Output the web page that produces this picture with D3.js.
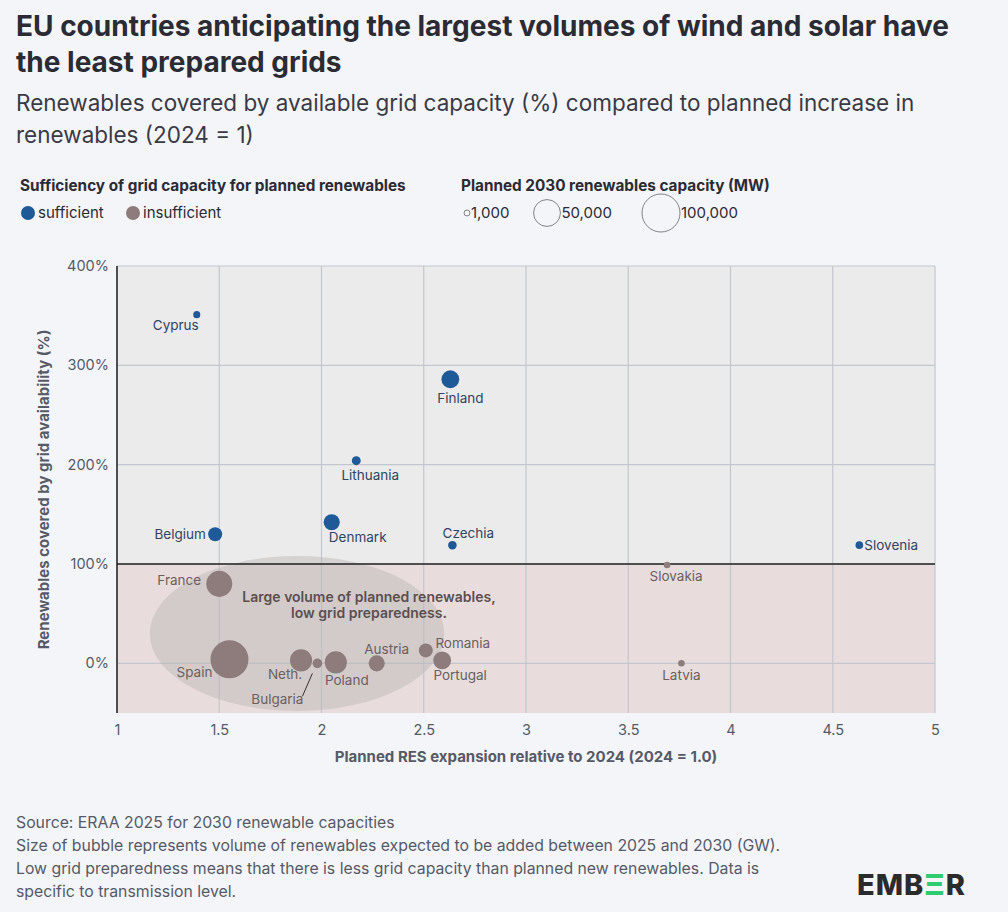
<!DOCTYPE html>
<html>
<head>
<meta charset="utf-8">
<script src="https://cdn.jsdelivr.net/npm/d3@7"></script>
<style>
  body { margin: 0; background: #f4f5f9; font-family: Inter, "Noto Sans", sans-serif; }
  svg text { font-family: Inter, "Noto Sans", sans-serif; }
</style>
</head>
<body>
<svg id="chart" width="1008" height="912"></svg>
<script>
var countries = ['Cyprus', 'Finland', 'Lithuania', 'Belgium', 'Denmark', 'Czechia', 'Slovenia', 'Slovakia', 'Latvia',
  'France', 'Spain', 'Neth.', 'Bulgaria', 'Poland', 'Austria', 'Romania', 'Portugal'];
var expansion = [1.39, 2.63, 2.17, 1.48, 2.05, 2.64, 4.63, 3.69, 3.76, 1.50, 1.55, 1.90, 1.98, 2.07, 2.27, 2.51, 2.59];
var covered = [351, 286, 204, 130, 142, 119, 119, 99, 0, 80, 4, 3, 0, 1, 0, 13, 3];
var capacity = [3500, 22000, 5500, 13500, 18000, 5000, 4000, 3000, 3000, 47000, 100000, 34000, 6500, 34000, 18000, 13500, 22000];
var sufficient = [true, true, true, true, true, true, true, false, false, false, false, false, false, false, false, false, false];
var xTicks = [1, 1.5, 2, 2.5, 3, 3.5, 4, 4.5, 5];
var yTicks = [0, 100, 200, 300, 400];
var sizeLegend = [1000, 50000, 100000];

// label placement: [dx, dy, anchor]
var labelPos = {
  'Cyprus': [-21, 15, 'middle'], 'Finland': [10, 24, 'middle'], 'Lithuania': [14, 19, 'middle'],
  'Belgium': [-35, 5, 'middle'], 'Denmark': [26, 20, 'middle'], 'Czechia': [16, -7, 'middle'],
  'Slovenia': [5, 5, 'start'], 'Slovakia': [9, 16, 'middle'], 'Latvia': [0, 17, 'middle'],
  'France': [-40, 1, 'middle'], 'Spain': [-35, 18, 'middle'], 'Neth.': [-16, 19, 'middle'],
  'Bulgaria': [-40, 41, 'middle'], 'Poland': [11, 23, 'middle'], 'Austria': [10, -9, 'middle'],
  'Romania': [37, -2, 'middle'], 'Portugal': [18, 20, 'middle']
};

var svg = d3.select('#chart');
var blue = '#1d5a97', brown = '#8d7c7b', textCol = '#2b2b33', grey = '#555a66';

svg.append('text').attr('x', 16).attr('y', 36).attr('font-size', 28).attr('font-weight', 700).attr('fill', textCol)
  .text('EU countries anticipating the largest volumes of wind and solar have');
svg.append('text').attr('x', 16).attr('y', 72).attr('font-size', 28).attr('font-weight', 700).attr('fill', textCol)
  .text('the least prepared grids');
svg.append('text').attr('x', 16).attr('y', 111).attr('font-size', 22.5).attr('fill', '#3a3a44')
  .text('Renewables covered by available grid capacity (%) compared to planned increase in');
svg.append('text').attr('x', 16).attr('y', 143).attr('font-size', 22.5).attr('fill', '#3a3a44')
  .text('renewables (2024 = 1)');

var x = d3.scaleLinear().domain([1, 5]).range([117, 935]);
var y = d3.scaleLinear().domain([-50, 400]).range([713, 266]);
var r = d3.scaleSqrt().domain([0, 100000]).range([0, 19]);

// legends
svg.append('text').attr('x', 20).attr('y', 191).attr('font-size', 15.3).attr('font-weight', 700).attr('fill', textCol)
  .text('Sufficiency of grid capacity for planned renewables');
[['sufficient', blue, 28], ['insufficient', brown, 133]].forEach(function(d) {
  svg.append('circle').attr('cx', d[2]).attr('cy', 213).attr('r', 7).attr('fill', d[1]);
  svg.append('text').attr('x', d[2] + 10).attr('y', 218).attr('font-size', 15).attr('fill', textCol).text(d[0]);
});
svg.append('text').attr('x', 461).attr('y', 191).attr('font-size', 15.3).attr('font-weight', 700).attr('fill', textCol)
  .text('Planned 2030 renewables capacity (MW)');
var lx = [467, 547, 661];
sizeLegend.forEach(function(v, i) {
  var rr = Math.max(3, r(v));
  svg.append('circle').attr('cx', lx[i]).attr('cy', 213).attr('r', rr).attr('fill', 'none').attr('stroke', '#666').attr('stroke-width', 0.8);
  svg.append('text').attr('x', lx[i] + rr + 1).attr('y', 218).attr('font-size', 15).attr('fill', textCol).text(d3.format(',')(v));
});

// plot backgrounds
svg.append('rect').attr('x', x(1)).attr('y', y(400)).attr('width', x(5) - x(1)).attr('height', y(100) - y(400)).attr('fill', '#ebebec');
svg.append('rect').attr('x', x(1)).attr('y', y(100)).attr('width', x(5) - x(1)).attr('height', y(-50) - y(100)).attr('fill', '#e8dcdd');

var grid = svg.append('g').attr('stroke', '#c3c6ce').attr('stroke-width', 1.2);
xTicks.forEach(function(t) { grid.append('line').attr('x1', x(t)).attr('x2', x(t)).attr('y1', y(400)).attr('y2', y(-50)); });
yTicks.forEach(function(t) { grid.append('line').attr('x1', x(1)).attr('x2', x(5)).attr('y1', y(t)).attr('y2', y(t)); });

// ellipse
svg.append('ellipse').attr('cx', x(1.88)).attr('cy', y(30)).attr('rx', x(2.6) - x(1.88)).attr('ry', y(-48) - y(30))
  .attr('fill', '#b9b5b3').attr('opacity', 0.45);
svg.append('text').attr('x', 369).attr('y', 602).attr('text-anchor', 'middle').attr('font-size', 14).attr('font-weight', 600).attr('fill', '#5b4f4f')
  .text('Large volume of planned renewables,');
svg.append('text').attr('x', 369).attr('y', 618).attr('text-anchor', 'middle').attr('font-size', 14).attr('font-weight', 600).attr('fill', '#5b4f4f')
  .text('low grid preparedness.');

// axes lines
svg.append('line').attr('x1', x(1)).attr('x2', x(1)).attr('y1', y(400)).attr('y2', y(-50)).attr('stroke', '#222').attr('stroke-width', 1.5);
svg.append('line').attr('x1', x(1)).attr('x2', x(5)).attr('y1', y(100)).attr('y2', y(100)).attr('stroke', '#222').attr('stroke-width', 1.5);

var xAxis = svg.append('g').attr('transform', 'translate(0,' + y(-50) + ')')
  .call(d3.axisBottom(x).tickValues(xTicks).tickSize(0).tickPadding(12).tickFormat(d3.format('')));
var yAxis = svg.append('g').attr('transform', 'translate(' + x(1) + ',0)')
  .call(d3.axisLeft(y).tickValues(yTicks).tickSize(0).tickPadding(8).tickFormat(function(d) { return d + '%'; }));
[xAxis, yAxis].forEach(function(a) {
  a.select('.domain').remove();
  a.selectAll('text').attr('font-size', 14.5).attr('fill', grey).style('font-family', 'Inter, sans-serif');
});

svg.append('text').attr('x', 526).attr('y', 762).attr('text-anchor', 'middle').attr('font-size', 15).attr('font-weight', 700).attr('fill', grey)
  .text('Planned RES expansion relative to 2024 (2024 = 1.0)');
svg.append('text').attr('transform', 'translate(49,' + y(175) + ') rotate(-90)').attr('text-anchor', 'middle')
  .attr('font-size', 15).attr('font-weight', 700).attr('fill', grey).text('Renewables covered by grid availability (%)');

// leader line for Bulgaria
var bi = countries.indexOf('Bulgaria');
svg.append('line').attr('x1', x(expansion[bi]) - 5).attr('y1', y(covered[bi]) + 10)
  .attr('x2', x(expansion[bi]) - 15).attr('y2', y(covered[bi]) + 33).attr('stroke', '#333').attr('stroke-width', 1);

var data = countries.map(function(c, i) {
  return { name: c, x: expansion[i], y: covered[i], cap: capacity[i], ok: sufficient[i] };
});
svg.append('g').selectAll('circle').data(data.slice().sort(function(a, b) { return b.cap - a.cap; }))
  .enter().append('circle')
  .attr('cx', function(d) { return x(d.x); })
  .attr('cy', function(d) { return y(d.y); })
  .attr('r', function(d) { return r(d.cap); })
  .attr('fill', function(d) { return d.ok ? blue : brown; });

svg.append('g').selectAll('text').data(data).enter().append('text')
  .attr('x', function(d) { return x(d.x) + labelPos[d.name][0]; })
  .attr('y', function(d) { return y(d.y) + labelPos[d.name][1]; })
  .attr('text-anchor', function(d) { return labelPos[d.name][2]; })
  .attr('font-size', 13.5).attr('fill', function(d) { return d.ok ? '#2f4560' : '#6a6060'; })
  .text(function(d) { return d.name; });

// footer
var notes = ['Source: ERAA 2025 for 2030 renewable capacities',
  'Size of bubble represents volume of renewables expected to be added between 2025 and 2030 (GW).',
  'Low grid preparedness means that there is less grid capacity than planned new renewables. Data is',
  'specific to transmission level.'];
notes.forEach(function(n, i) {
  svg.append('text').attr('x', 16).attr('y', 828 + i * 23).attr('font-size', 15.8).attr('fill', '#555a66').text(n);
});
var logo = svg.append('text').attr('x', 857).attr('y', 895).attr('font-size', 29).attr('font-weight', 800).attr('fill', '#2b2b2b').attr('letter-spacing', 1);
logo.append('tspan').text('EMB');
logo.append('tspan').attr('fill', '#2ecc71').text('Ξ');
logo.append('tspan').text('R');
</script>
</body>
</html>
